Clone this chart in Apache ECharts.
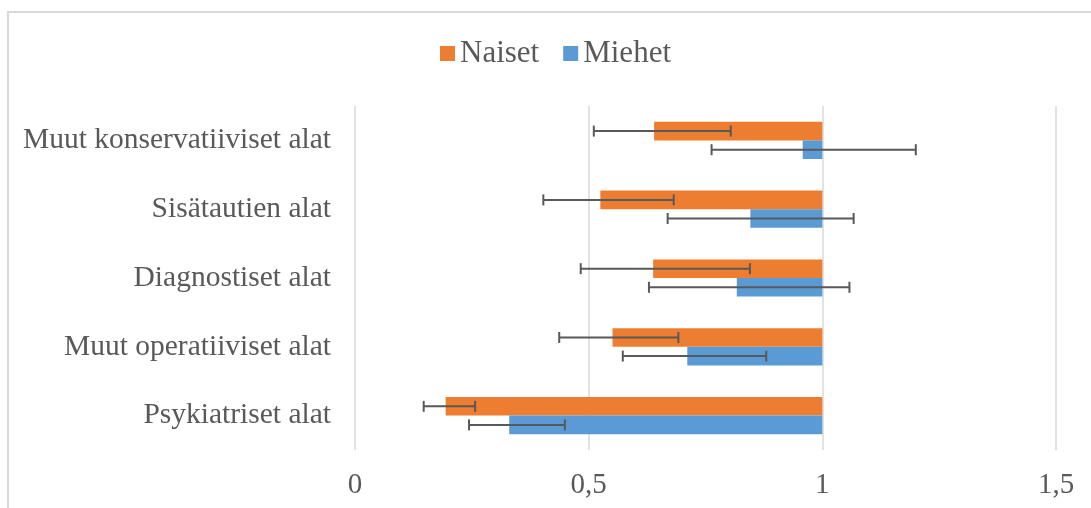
<!DOCTYPE html>
<html>
<head>
<meta charset="utf-8">
<script src="https://cdn.jsdelivr.net/npm/echarts@6/dist/echarts.min.js"></script>
<style>
html,body{margin:0;padding:0;background:#fff;}
#c{width:1091px;height:508px;}
</style>
</head>
<body>
<div id="c"></div>
<script>
const categories = ['Muut konservatiiviset alat', 'Sisätautien alat', 'Diagnostiset alat', 'Muut operatiiviset alat', 'Psykiatriset alat'];
const naiset   = [0.640, 0.525, 0.638, 0.551, 0.194];
const naisetLo = [0.511, 0.403, 0.483, 0.437, 0.147];
const naisetHi = [0.804, 0.682, 0.845, 0.692, 0.257];
const miehet   = [0.958, 0.846, 0.817, 0.711, 0.330];
const miehetLo = [0.763, 0.669, 0.629, 0.573, 0.244];
const miehetHi = [1.200, 1.067, 1.058, 0.880, 0.449];
const xTicks = [0, 0.5, 1, 1.5];
const baseValue = 1;

const FONT = 'Liberation Serif';
const TEXT = '#595959';

function makeData(vals, lo, hi) {
  return vals.map((v, i) => [i, v, lo[i], hi[i]]);
}

function renderer(color, side) {
  return function (params, api) {
    const cat = api.value(0);
    const v = api.value(1), lo = api.value(2), hi = api.value(3);
    const band = api.size([0, 1])[1];
    const h = band * 0.27;
    const center = api.coord([baseValue, cat]);
    const cy = center[1] + side * h / 2;
    const xv = api.coord([v, cat])[0];
    const xb = center[0];
    const xlo = api.coord([lo, cat])[0];
    const xhi = api.coord([hi, cat])[0];
    const cap = 5.5;
    const es = { stroke: '#595959', lineWidth: 2 };
    return {
      type: 'group',
      children: [
        { type: 'rect', shape: { x: Math.min(xv, xb), y: cy - h / 2, width: Math.abs(xb - xv), height: h }, style: { fill: color } },
        { type: 'line', shape: { x1: xlo, y1: cy, x2: xhi, y2: cy }, style: es },
        { type: 'line', shape: { x1: xlo, y1: cy - cap, x2: xlo, y2: cy + cap }, style: es },
        { type: 'line', shape: { x1: xhi, y1: cy - cap, x2: xhi, y2: cy + cap }, style: es }
      ]
    };
  };
}

const chart = echarts.init(document.getElementById('c'));
chart.setOption({
  animation: false,
  backgroundColor: '#fff',
  graphic: [{
    type: 'rect', silent: true, z: -10,
    shape: { x: 8, y: 12, width: 1110, height: 600 },
    style: { fill: 'none', stroke: '#D9D9D9', lineWidth: 2 }
  }],
  legend: {
    data: ['Naiset', 'Miehet'],
    left: 440, top: 38, padding: 0,
    icon: 'rect', itemWidth: 15, itemHeight: 15, itemGap: 24,
    textStyle: { fontFamily: FONT, fontSize: 31, color: TEXT }
  },
  grid: { left: 355, right: 35, top: 106, bottom: 58 },
  xAxis: {
    type: 'value', min: 0, max: 1.5, interval: 0.5,
    axisLine: { show: false }, axisTick: { show: false },
    splitLine: { lineStyle: { color: '#D9D9D9', width: 1.5 } },
    axisLabel: {
      margin: 21, fontFamily: FONT, fontSize: 29, color: TEXT,
      formatter: v => (xTicks.indexOf(v) >= 0 ? String(v).replace('.', ',') : '')
    }
  },
  yAxis: {
    type: 'category', data: categories, inverse: true,
    axisLine: { show: false }, axisTick: { show: false },
    axisLabel: { margin: 24, fontFamily: FONT, fontSize: 29.5, color: TEXT }
  },
  series: [
    {
      name: 'Naiset', type: 'custom', itemStyle: { color: '#ED7D31' },
      encode: { x: [1, 2, 3], y: 0 },
      data: makeData(naiset, naisetLo, naisetHi),
      renderItem: renderer('#ED7D31', -1)
    },
    {
      name: 'Miehet', type: 'custom', itemStyle: { color: '#5B9BD5' },
      encode: { x: [1, 2, 3], y: 0 },
      data: makeData(miehet, miehetLo, miehetHi),
      renderItem: renderer('#5B9BD5', 1)
    }
  ]
});
</script>
</body>
</html>
